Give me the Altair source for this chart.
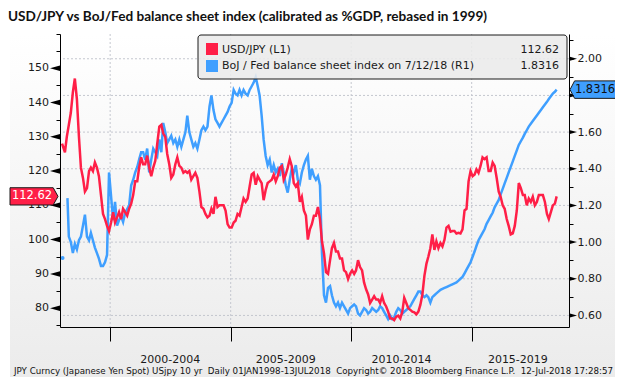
import altair as alt
import pandas as pd

# ---------------- data ----------------
# USD/JPY monthly, Jan 1998 .. Jul 2018 (left axis)
usdjpy = [
    # 1998
    128, 125.5, 130, 133.5, 137, 143, 147, 141, 130, 121, 118, 114,
    # 1999
    115, 120, 121, 120, 122.5, 121, 118.5, 113, 107.5, 106, 104, 102.5,
    # 2000
    105, 108, 105, 106.5, 108, 106, 109, 108, 107, 109, 110.5, 113,
    # 2001
    117, 117, 121, 124, 122, 122, 124.5, 121, 118.5, 121, 123, 128,
    # 2002
    133, 133.5, 131, 130, 125, 122, 118, 119, 122, 124, 121.5, 121,
    # 2003
    119.5, 120, 119.5, 120, 117.5, 118.5, 119.5, 118, 114, 109.5, 109, 107.5,
    # 2004
    106.5, 107, 109, 107.5, 112.5, 109.5, 110, 110, 110, 108.5, 104.5, 103.5,
    # 2005
    103.5, 105, 105.5, 107.5, 107, 109.5, 112, 111, 112, 115.5, 119, 119.5,
    # 2006
    116, 118.5, 117.5, 116.5, 111.5, 114.5, 116.5, 117, 117.5, 119, 117, 118.5,
    # 2007
    121, 121.5, 117.5, 119, 121, 123.5, 121.5, 116.5, 115.5, 116.5, 111, 112.5,
    # 2008
    108.5, 107, 100, 103, 104.5, 107, 107, 109.5, 106, 99.5, 96, 90.5,
    # 2009
    90, 94, 97.5, 99, 96.5, 96.5, 94.5, 94.5, 91, 90.5, 88.5, 90,
    # 2010
    91, 90, 91, 94, 92, 91, 87.5, 85.5, 84, 81.5, 82.5, 83.5,
    # 2011
    82.5, 82.5, 81.5, 83.5, 81.5, 80.5, 79, 77, 77, 76.5, 77.5, 77.8,
    # 2012
    77, 79, 83, 81.5, 80, 79.5, 79, 78.8, 78.2, 79, 81, 84,
    # 2013
    89.5, 93, 95, 97.5, 101.5, 97, 99.5, 97.5, 99, 98, 100, 103.5,
    # 2014
    104, 102.3, 102.5, 102.5, 101.8, 102, 101.8, 103, 108.5, 109, 117, 120,
    # 2015
    118.5, 119, 120.5, 119.5, 121.5, 124, 123.5, 124, 120, 120, 122.5, 121.5,
    # 2016
    118, 114, 112.5, 110, 109, 106, 104, 101.5, 101.8, 104, 108.5, 116.5,
    # 2017
    115, 113, 113, 110, 112, 111, 112.5, 110, 111, 113, 113, 113,
    # 2018
    111, 107.5, 106, 108, 110, 110.5, 112.62,
]

# BoJ / Fed balance sheet index, Mar 1998 .. Jul 2018 (right axis)
bojfed = [
    # 1998 (Mar..Dec)
    1.24, 1.03, 1.00, 0.94, 0.99, 0.96, 1.01, 1.03, 1.09, 1.15,
    # 1999
    1.03, 1.01, 1.05, 1.01, 0.97, 0.94, 0.91, 0.87, 0.87, 0.89, 0.93, 1.38,
    # 2000
    1.25, 1.12, 1.22, 1.09, 1.12, 1.14, 1.11, 1.16, 1.18, 1.20, 1.31, 1.34,
    # 2001
    1.38, 1.41, 1.45, 1.49, 1.49, 1.45, 1.51, 1.38, 1.45, 1.51, 1.49, 1.47,
    # 2002
    1.56, 1.49, 1.65, 1.60, 1.54, 1.56, 1.58, 1.54, 1.56, 1.52, 1.56, 1.52,
    # 2003
    1.56, 1.60, 1.69, 1.60, 1.56, 1.52, 1.54, 1.51, 1.56, 1.61, 1.63, 1.61,
    # 2004
    1.63, 1.74, 1.80, 1.72, 1.67, 1.65, 1.63, 1.65, 1.67, 1.69, 1.71, 1.74,
    # 2005
    1.76, 1.83, 1.81, 1.80, 1.83, 1.80, 1.83, 1.81, 1.80, 1.83, 1.85, 1.87,
    # 2006
    1.90, 1.85, 1.80, 1.69, 1.56, 1.47, 1.42, 1.45, 1.38, 1.42, 1.38, 1.40,
    # 2007
    1.36, 1.43, 1.38, 1.31, 1.27, 1.34, 1.40, 1.38, 1.42, 1.34, 1.32, 1.38,
    # 2008
    1.42, 1.45, 1.47, 1.34, 1.40, 1.36, 1.34, 1.36, 1.31, 0.94, 0.71, 0.67,
    # 2009
    0.75, 0.76, 0.71, 0.67, 0.65, 0.67, 0.64, 0.67, 0.65, 0.63, 0.61, 0.64,
    # 2010
    0.65, 0.66, 0.65, 0.61, 0.60, 0.62, 0.64, 0.63, 0.61, 0.62, 0.64, 0.63,
    # 2011
    0.62, 0.63, 0.65, 0.64, 0.62, 0.60, 0.58, 0.60, 0.58, 0.59, 0.62, 0.64,
    # 2012
    0.63, 0.61, 0.62, 0.63, 0.64, 0.65, 0.67, 0.69, 0.71, 0.73, 0.73, 0.71,
    # 2013
    0.70, 0.71, 0.70, 0.67, 0.70, 0.71, 0.72, 0.73, 0.74, 0.745, 0.75, 0.755,
    # 2014
    0.76, 0.765, 0.77, 0.775, 0.78, 0.79, 0.80, 0.81, 0.83, 0.85, 0.87, 0.89,
    # 2015
    0.92, 0.95, 0.98, 1.01, 1.03, 1.05, 1.07, 1.10, 1.12, 1.14, 1.16, 1.19,
    # 2016
    1.21, 1.23, 1.26, 1.29, 1.32, 1.35, 1.38, 1.41, 1.44, 1.47, 1.50, 1.53,
    # 2017
    1.55, 1.57, 1.59, 1.61, 1.63, 1.645, 1.66, 1.675, 1.69, 1.705, 1.72, 1.735,
    # 2018
    1.75, 1.765, 1.78, 1.795, 1.81, 1.82, 1.8316,
]
bojfed_first_dot = 0.913          # isolated Jan-1998 observation

left_ticks = [75, 80, 85, 90, 95, 100, 105, 110, 115, 120, 125, 130, 135, 140, 145, 150, 155, 160]
left_major = [80, 90, 100, 110, 120, 130, 140, 150]
right_ticks = [0.6, 0.7, 0.8, 0.9, 1.0, 1.1, 1.2, 1.3, 1.4, 1.5, 1.6, 1.7, 1.8, 1.9, 2.0, 2.1]
right_major = [0.6, 0.8, 1.0, 1.2, 1.4, 1.6, 1.8, 2.0]
period_breaks = ["2000-01-01", "2005-01-01", "2010-01-01", "2015-01-01"]
period_labels = ["2000-2004", "2005-2009", "2010-2014", "2015-2019"]
period_label_at = ["2002-07-01", "2007-04-15", "2012-02-01", "2016-12-01"]

TITLE = "USD/JPY vs BoJ/Fed balance sheet index (calibrated as %GDP, rebased in 1999)"
FOOTER = ("JPY Curncy (Japanese Yen Spot) USjpy 10 yr\u00a0\u00a0Daily 01JAN1998-13JUL2018"
          "\u00a0\u00a0Copyright\u00a9 2018 Bloomberg Finance L.P.\u00a0\u00a012-Jul-2018 17:28:57")
LEG1 = "USD/JPY (L1)"
LEG2 = "BoJ / Fed balance sheet index on 7/12/18 (R1)"

# ---------------- tables ----------------
def month_dates(y0, m0, n):
    out = []
    y, m = y0, m0
    for _ in range(n):
        out.append(f"{y}-{m:02d}-15")
        m += 1
        if m > 12:
            m, y = 1, y + 1
    return out

red_dates = month_dates(1998, 1, len(usdjpy))
red_dates[0] = "1998-01-02"
red_dates[-1] = "2018-07-12"
blue_dates = month_dates(1998, 3, len(bojfed))
blue_dates[0] = "1998-03-25"
blue_dates[-1] = "2018-07-12"

red_df = pd.DataFrame({"date": red_dates, "v": usdjpy})
blue_df = pd.DataFrame({"date": blue_dates, "v": bojfed})
dot_df = pd.DataFrame({"date": ["1998-01-10"], "v": [bojfed_first_dot]})
red_last = pd.DataFrame({"v": [usdjpy[-1]]})
blue_last = pd.DataFrame({"v": [bojfed[-1]]})
lmaj_df = pd.DataFrame({"t": left_major})
rmaj_df = pd.DataFrame({"t": right_major})
vgrid_df = pd.DataFrame({"date": period_breaks})
plab_df = pd.DataFrame({"date": period_label_at, "lab": period_labels})
one = pd.DataFrame({"k": [0]})

# ---------------- styling ----------------
W, H = 509, 293
RED = "#ff1f47"
BLUE = "#3f9fff"
FONT = "DejaVu Sans"
GRID = "#c4c7cf"
INK = "#1a1a1a"

def dt(y, m, d):
    return alt.DateTime(year=y, month=m, date=d)

xscale = alt.Scale(domain=[dt(1997, 12, 2), dt(2019, 1, 15)])
xaxis = alt.Axis(values=[dt(2000, 1, 1), dt(2005, 1, 1), dt(2010, 1, 1), dt(2015, 1, 1)],
                 labels=False, tickSize=14, tickColor="black", domainColor="black",
                 grid=False, title=None, zindex=1)
lscale = alt.Scale(domain=[74.5, 160], nice=False, zero=False)
rscale = alt.Scale(domain=[0.537, 2.135], nice=False, zero=False)
laxis = alt.Axis(orient="left", values=left_ticks, title=None, grid=False, zindex=1,
                 labels=False, tickSize=4, tickColor="black", domainColor="black")
raxis = alt.Axis(orient="right", values=right_ticks, title=None, grid=False, zindex=1,
                 labelExpr="(round(datum.value*10) % 2 === 0 && round(datum.value*10) !== 18 && datum.value < 2.05) ? format(datum.value, '.2f') : ''",
                 tickSize=4, tickColor="black", domainColor="black", labelPadding=4,
                 labelOverlap=False, labelFont=FONT, labelFontSize=11, labelColor=INK)

def X(field="date"):
    return alt.X(f"{field}:T", scale=xscale, axis=xaxis, title=None)

def YL(field):
    return alt.Y(f"{field}:Q", scale=lscale, axis=laxis, title=None)

def YR(field):
    return alt.Y(f"{field}:Q", scale=rscale, axis=raxis, title=None)

# ---------------- background & grid ----------------
bg = alt.Chart(one).mark_rect(
    fill=alt.LinearGradient(gradient="linear", x1=0, x2=0, y1=0, y2=1,
                            stops=[alt.GradientStop(color="#ffffff", offset=0),
                                   alt.GradientStop(color="#ebebeb", offset=1)])
).encode(x=alt.value(-50), x2=alt.value(558), y=alt.value(0), y2=alt.value(350))

vgrid = alt.Chart(vgrid_df).mark_rule(color=GRID, strokeDash=[2, 2], strokeWidth=1).encode(x=X())

# ---------------- right-axis group ----------------
hgrid = alt.Chart(rmaj_df).mark_rule(color=GRID, strokeDash=[2, 2], strokeWidth=1).encode(y=YR("t"))
blue_line = alt.Chart(blue_df).mark_line(color=BLUE, strokeWidth=2.5).encode(x=X(), y=YR("v"))
blue_dot = alt.Chart(dot_df).mark_circle(color=BLUE, size=16, opacity=1).encode(x=X(), y=YR("v"))
rtri = alt.Chart(rmaj_df).mark_point(shape="M-1,-0.55L-1,0.55L1,0Z", filled=True, color="black",
                                     size=64, opacity=1).encode(x=alt.value(W + 4), y=YR("t"))
btag = alt.Chart(blue_last).mark_point(shape="M-1,0L-0.8,-0.38L1,-0.38L1,0.38L-0.8,0.38Z", filled=True,
                                       fill=BLUE, stroke=INK, strokeWidth=1, size=2116,
                                       opacity=1).encode(x=alt.value(W + 24), y=YR("v"))
btag_t = alt.Chart(blue_last).mark_text(font=FONT, fontSize=11.5, color="#111111", align="center",
                                        baseline="middle").encode(
    x=alt.value(W + 26), y=YR("v"), text=alt.Text("v:Q", format=".4f"))
right_group = alt.layer(hgrid, blue_line, blue_dot, rtri, btag, btag_t)

# ---------------- left-axis group ----------------
red_line = alt.Chart(red_df).mark_line(color=RED, strokeWidth=2.5).encode(x=X(), y=YL("v"))
ltri = alt.Chart(lmaj_df).mark_point(shape="M1,-0.55L1,0.55L-1,0Z", filled=True, color="black",
                                     size=100, opacity=1).encode(x=alt.value(-5), y=YL("t"))
llab = alt.Chart(lmaj_df).mark_text(font=FONT, fontSize=11, color=INK, align="right",
                                    baseline="middle").encode(
    x=alt.value(-11), y=YL("t"), text=alt.Text("t:Q", format="d"))
rtag = alt.Chart(red_last).mark_point(shape="M-1,-0.36L0.8,-0.36L1,0L0.8,0.36L-1,0.36Z", filled=True,
                                      fill=RED, stroke=INK, strokeWidth=1, size=2304,
                                      opacity=1).encode(x=alt.value(-26), y=YL("v"))
rtag_t = alt.Chart(red_last).mark_text(font=FONT, fontSize=11.5, color="white", align="center",
                                       baseline="middle").encode(
    x=alt.value(-28), y=YL("v"), text=alt.Text("v:Q", format=".2f"))
left_group = alt.layer(red_line, ltri, llab, rtag, rtag_t)

# ---------------- annotations ----------------
def txt(s, x, y, **kw):
    return alt.Chart(one).mark_text(text=s, **kw).encode(x=alt.value(x), y=alt.value(y))

title = txt(TITLE, -52, -13, font="Lato", fontWeight="bold", fontSize=13.6, align="left",
            baseline="alphabetic", color="#111111")
leg_box = alt.Chart(one).mark_rect(fill="#ebebeb", fillOpacity=0.88, stroke=INK, strokeWidth=1,
                                   cornerRadius=3).encode(
    x=alt.value(138), x2=alt.value(507), y=alt.value(1), y2=alt.value(45))
sw1 = alt.Chart(one).mark_rect(fill=RED).encode(x=alt.value(146), x2=alt.value(158),
                                                y=alt.value(9), y2=alt.value(21))
sw2 = alt.Chart(one).mark_rect(fill=BLUE).encode(x=alt.value(146), x2=alt.value(158),
                                                 y=alt.value(26), y2=alt.value(38))
lt1 = txt(LEG1, 162, 16, font=FONT, fontSize=11, align="left", baseline="middle", color=INK)
lt2 = txt(LEG2, 162, 32, font=FONT, fontSize=11, align="left", baseline="middle", color=INK)
lv1 = alt.Chart(red_last).mark_text(font=FONT, fontSize=11, align="right", baseline="middle",
                                    color=INK).encode(
    x=alt.value(499), y=alt.value(16), text=alt.Text("v:Q", format=".2f"))
lv2 = alt.Chart(blue_last).mark_text(font=FONT, fontSize=11, align="right", baseline="middle",
                                     color=INK).encode(
    x=alt.value(499), y=alt.value(32), text=alt.Text("v:Q", format=".4f"))
plabels = alt.Chart(plab_df).mark_text(font=FONT, fontSize=11, color=INK, baseline="middle").encode(
    x=X(), y=alt.value(H + 33), text="lab:N")
footer = txt(FOOTER, -46, H + 47, font=FONT, fontSize=8.7, align="left", baseline="alphabetic",
             color="#111111")

chart = alt.layer(
    bg, vgrid, right_group, left_group,
    title, leg_box, sw1, sw2, lt1, lt2, lv1, lv2, plabels, footer,
).resolve_scale(y="independent").properties(
    width=W, height=H,
    autosize=alt.AutoSizeParams(type="none"),
    padding={"left": 52, "top": 26, "right": 46, "bottom": 50},
    background="white",
).configure_view(stroke=None)

chart.save("out.html", embed_options={"renderer": "svg", "actions": False})
